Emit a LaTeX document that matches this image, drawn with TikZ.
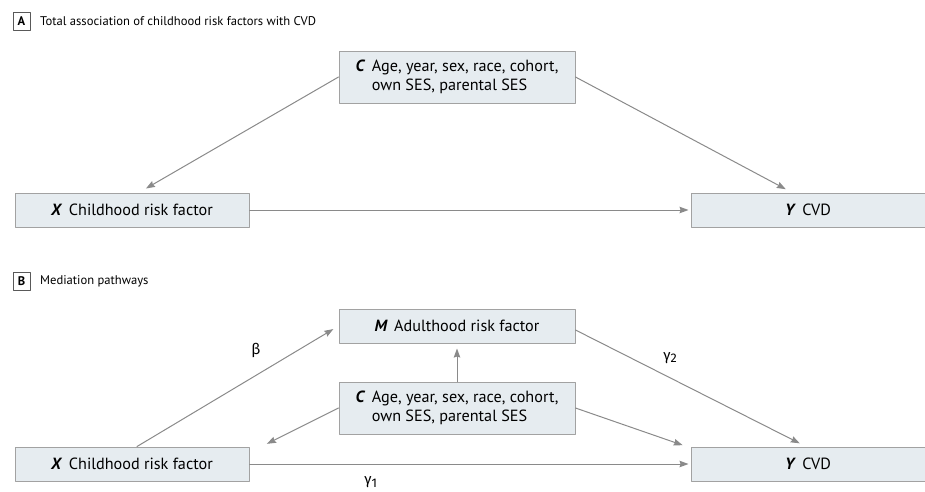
\documentclass[tikz,border=0pt]{standalone}
\usepackage{fontspec}
\setmainfont{PT Sans}
\newfontfamily\greekfont{Fira Sans}
\usetikzlibrary{arrows.meta, calc}
\definecolor{boxfill}{HTML}{E6ECF0}
\definecolor{boxline}{HTML}{A2A2A2}
\definecolor{arrgray}{HTML}{8A8A8A}

\begin{document}
\begin{tikzpicture}[x=1pt, y=-1pt, >=Stealth, line cap=round, line join=round]
	\tikzset{
		box/.style={draw=boxline, fill=boxfill, line width=1pt, inner sep=0pt,
			minimum width=234pt, minimum height=34pt, font=\fontsize{16.2}{19.5}\selectfont},
		twoline/.style={box, minimum width=236pt, minimum height=52pt},
		arr/.style={draw=arrgray, line width=1pt, -{Stealth[length=9pt, width=6.5pt, inset=1pt]}},
		tag/.style={draw=black!65, line width=.8pt, minimum width=17pt, minimum height=18pt,
			inner sep=0pt, font=\fontsize{12.5}{13}\selectfont\bfseries},
		title/.style={anchor=west, inner sep=0pt, font=\fontsize{12.6}{15}\selectfont},
		greek/.style={font=\fontsize{15}{16}\selectfont\greekfont}
	}
	\newcommand{\var}[1]{\textbf{\textit{#1}}\hspace{.4em}}
	\newcommand{\sub}[1]{\raisebox{-.35ex}{\fontsize{12.5}{13}\selectfont #1}}
	\newcommand{\conf}{\begin{tabular}{@{}l@{\hspace{.4em}}l@{}}
			\textbf{\textit{C}} & Age, year, sex, race, cohort,\\
			& own SES, parental SES\end{tabular}}
	
	\useasboundingbox (0,0) rectangle (925,491);
	
	% A: total association
	\node[tag] (tagA) at (21.5,21) {A};
	\node[title] (titleA) at (40,21) {Total association of childhood risk factors with CVD};
	
	\node[twoline] (Ca) at (457,77) {\conf};
	\node[box] (Xa) at (132,210) {\var{X}Childhood risk factor};
	\node[box] (Ya) at (808,210) {\var{Y}CVD};
	
	\draw[arr, shorten >=8pt] (Ca.west) -- ($(Xa.north)+(7,0)$);
	\draw[arr, shorten >=7pt] (Ca.east) -- ($(Ya.north)+(-16,0)$);
	\draw[arr, shorten >=2pt] (Xa.east) -- (Ya.west);
	
	% B: mediation
	\node[tag] (tagB) at (21.5,281) {B};
	\node[title] (titleB) at (40,281) {Mediation pathways};
	
	\node[box, minimum width=236pt] (Mb) at (457,326) {\var{M}Adulthood risk factor};
	\node[twoline] (Cb) at (457,408) {\conf};
	\node[box] (Xb) at (132,464) {\var{X}Childhood risk factor};
	\node[box] (Yb) at (808,464) {\var{Y}CVD};
	
	\draw[arr, shorten >=6pt] ($(Xb.north)+(5,0)$) -- (Mb.west)
		node[greek, pos=.59, yshift=25pt] (beta) {β};
	\draw[arr, shorten >=7pt] ($(Mb.east)+(0,4)$) -- ($(Yb.north)+(-2,0)$)
		node[greek, pos=.41, yshift=20pt] (gam2) {γ\sub{2}};
	\draw[arr, shorten >=5pt] (Cb.north) -- (Mb.south);
	\draw[arr, shorten >=6pt] (Cb.west) -- ($(Xb.north east)+(12,0)$);
	\draw[arr, shorten >=4pt] (Cb.east) -- ($(Yb.north west)+(-4,0)$);
	\draw[arr, shorten >=2pt] (Xb.east) -- (Yb.west)
		node[greek, pos=.275, yshift=-18pt] (gam1) {γ\sub{1}};
\end{tikzpicture}
\end{document}
